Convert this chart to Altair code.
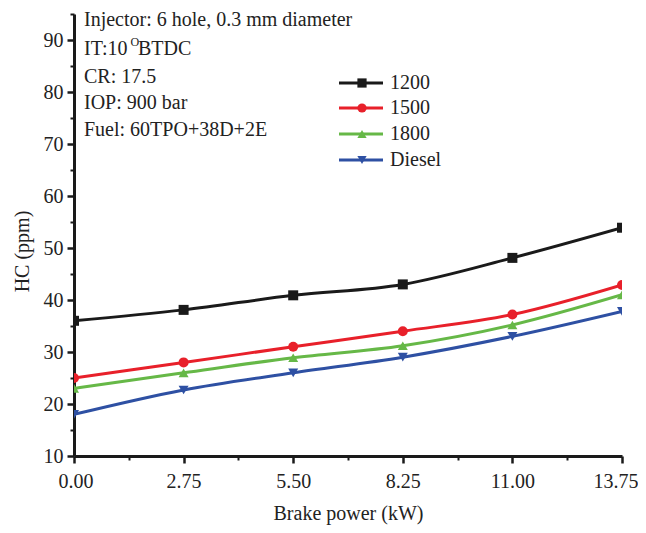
import altair as alt
import pandas as pd

power = [0.00, 2.75, 5.50, 8.25, 11.00, 13.75]
series_names = ["1200", "1500", "1800", "Diesel"]
hc_1200 = [36, 38.1, 40.9, 43, 48.1, 53.9]
hc_1500 = [25, 28, 31, 34, 37.2, 42.9]
hc_1800 = [23, 26, 28.9, 31.2, 35.2, 41]
hc_diesel = [18, 22.7, 26, 29, 33, 37.8]
colors = ["#1a1a1a", "#e8202a", "#66b847", "#2e50a3"]
shapes = ["square", "circle", "triangle-up", "triangle-down"]

x_major = [0, 2.75, 5.5, 8.25, 11, 13.75]
x_minor = [1.375, 4.125, 6.875, 9.625, 12.375]
y_major = [10, 20, 30, 40, 50, 60, 70, 80, 90]
y_minor = [15, 25, 35, 45, 55, 65, 75, 85, 95]

annot_lines = ["Injector: 6 hole, 0.3 mm diameter", "IT:10", "CR: 17.5",
               "IOP: 900 bar", "Fuel: 60TPO+38D+2E"]

rows = []
for name, vals in zip(series_names, [hc_1200, hc_1500, hc_1800, hc_diesel]):
    for p, v in zip(power, vals):
        rows.append({"power": p, "hc": v, "series": name})
df = pd.DataFrame(rows)

FONT = "Liberation Serif"
FS = 20
TXT = "#222222"
W, H = 548, 442

xscale = alt.Scale(domain=[0, 13.75], nice=False, zero=False)
yscale = alt.Scale(domain=[10, 95], nice=False, zero=False)
cscale = alt.Scale(domain=series_names, range=colors)
sscale = alt.Scale(domain=series_names, range=shapes)

base = alt.Chart(df)

lines = base.mark_line(interpolate="monotone", strokeWidth=3, clip=True).encode(
    x=alt.X("power:Q", scale=xscale,
            axis=alt.Axis(values=x_major, format=".2f", title="Brake power (kW)",
                          orient="bottom", grid=False, tickSize=7, tickWidth=2.5,
                          domainWidth=3, domainColor="#1a1a1a", tickColor="#1a1a1a",
                          labelFont=FONT, labelFontSize=FS, labelColor=TXT,
                          titleFont=FONT, titleFontSize=FS, titleFontWeight="normal",
                          titleColor=TXT, labelPadding=8, titlePadding=12,
                          labelFlush=True, labelFlushOffset=16)),
    y=alt.Y("hc:Q", scale=yscale,
            axis=alt.Axis(values=y_major, title="HC (ppm)", orient="left", grid=False,
                          tickSize=7, tickWidth=2.5, domainWidth=3,
                          domainColor="#1a1a1a", tickColor="#1a1a1a",
                          labelFont=FONT, labelFontSize=FS, labelColor=TXT,
                          titleFont=FONT, titleFontSize=FS, titleFontWeight="normal",
                          titleColor=TXT, labelPadding=4,
                          titleAngle=270, titleX=-52, titleY=237,
                          titleBaseline="middle", titleAlign="center")),
    color=alt.Color("series:N", scale=cscale, legend=None),
    detail="series:N",
)

points = base.mark_point(filled=True, size=100, opacity=1, clip=True).encode(
    x=alt.X("power:Q", scale=xscale, axis=None),
    y=alt.Y("hc:Q", scale=yscale, axis=None),
    color=alt.Color("series:N", scale=cscale, legend=None),
    shape=alt.Shape("series:N", scale=sscale, legend=None),
)

minor = base.mark_point(opacity=0).encode(
    x=alt.X("power:Q", scale=xscale,
            axis=alt.Axis(values=x_minor, orient="bottom", labels=False, domain=False,
                          tickSize=4, tickWidth=2, tickColor="#1a1a1a", title=None,
                          grid=False)),
    y=alt.Y("hc:Q", scale=yscale,
            axis=alt.Axis(values=y_minor, orient="left", labels=False, domain=False,
                          tickSize=4, tickWidth=2, tickColor="#1a1a1a", title=None,
                          grid=False)),
)

# annotation text block
ann_y = [6, 35, 63, 89, 116]
ann_layers = []
for txt, yy in zip(annot_lines, ann_y):
    ann_layers.append(alt.Chart(pd.DataFrame({"t": [txt]})).mark_text(
        font=FONT, fontSize=FS, align="left", baseline="middle", color=TXT
    ).encode(text="t:N", x=alt.value(10), y=alt.value(yy)))
ann_layers.append(alt.Chart(pd.DataFrame({"t": ["O"]})).mark_text(
    font=FONT, fontSize=12, align="left", baseline="middle", color=TXT
).encode(text="t:N", x=alt.value(56.5), y=alt.value(28)))
ann_layers.append(alt.Chart(pd.DataFrame({"t": ["BTDC"]})).mark_text(
    font=FONT, fontSize=FS, align="left", baseline="middle", color=TXT
).encode(text="t:N", x=alt.value(64), y=alt.value(35)))

# custom legend
leg_y = [69, 94, 120, 146]
leg_layers = []
for name, col, shp, yy in zip(series_names, colors, shapes, leg_y):
    d = pd.DataFrame({"t": [name]})
    leg_layers.append(alt.Chart(d).mark_rule(color=col, strokeWidth=3).encode(
        x=alt.value(265), x2=alt.value(309), y=alt.value(yy)))
    leg_layers.append(alt.Chart(d).mark_point(filled=True, size=85, opacity=1, color=col,
                                              shape=shp).encode(
        x=alt.value(288), y=alt.value(yy)))
    leg_layers.append(alt.Chart(d).mark_text(font=FONT, fontSize=FS, align="left",
                                             baseline="middle", color=TXT).encode(
        text="t:N", x=alt.value(316), y=alt.value(yy)))

chart = alt.layer(lines, points, minor, *ann_layers, *leg_layers).resolve_axis(
    x="independent", y="independent"
).properties(
    width=W, height=H,
    autosize=alt.AutoSizeParams(type="none"),
    padding={"left": 66, "top": 6, "right": 16, "bottom": 69},
).configure_view(stroke=None)

chart.save("out.html", embed_options={"renderer": "svg", "actions": False})
